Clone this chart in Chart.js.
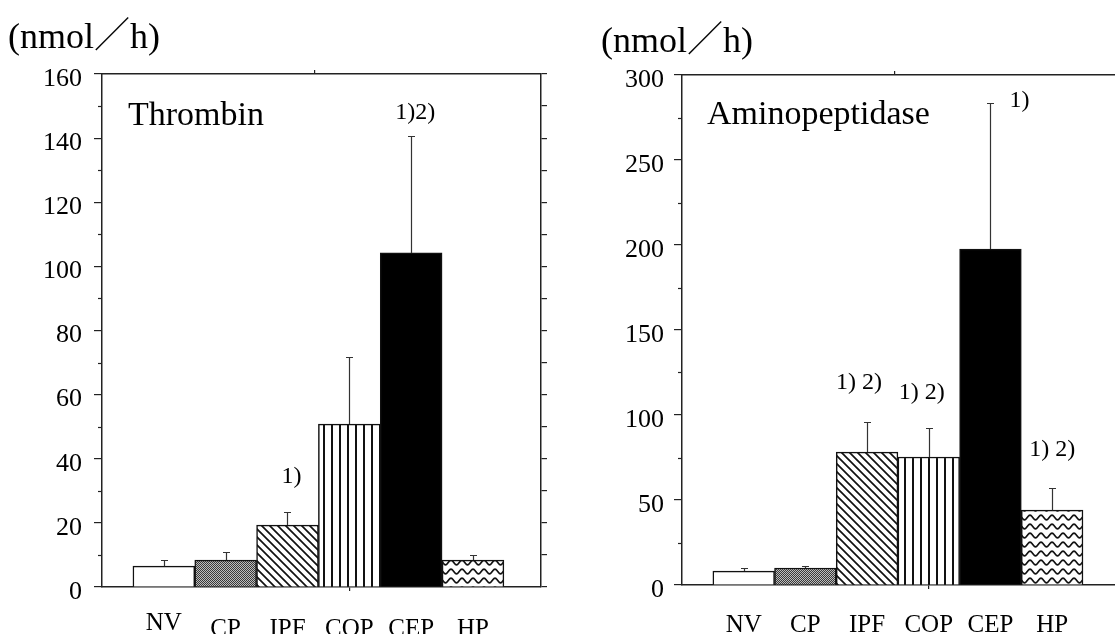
<!DOCTYPE html>
<html>
<head>
<meta charset="utf-8">
<script src="https://cdn.jsdelivr.net/npm/chart.js@4/dist/chart.umd.min.js"></script>
<style>
  html, body { margin: 0; padding: 0; background: #fff; overflow: hidden; width: 1115px; height: 634px; }
  #leftBox  { position: absolute; left: 0;     top: 0; width: 557px; height: 634px; }
  #rightBox { position: absolute; left: 557px; top: 0; width: 580px; height: 634px; }
</style>
</head>
<body>
<div id="leftBox"><canvas id="thrombinChart"></canvas></div>
<div id="rightBox"><canvas id="aminoChart"></canvas></div>
<script>
// ---- data ----
const groups = ['NV', 'CP', 'IPF', 'COP', 'CEP', 'HP'];

const thrombinMean  = [6.5, 8.4, 19.3, 50.8, 104.2, 8.4];
const thrombinSD    = [2.0, 2.5, 4.1, 20.9, 36.5, 1.6];
const thrombinNotes = ['', '', '1)', '', '1)2)', ''];
const thrombinTicks = [0, 20, 40, 60, 80, 100, 120, 140, 160];
const thrombinMinor = [10, 30, 50, 70, 90, 110, 130, 150];

const aminoMean  = [8.2, 10.0, 78.2, 75.3, 197.6, 44.0];
const aminoSD    = [1.8, 1.2, 17.8, 17.1, 85.9, 13.0];
const aminoNotes = ['', '', '1) 2)', '1) 2)', '1)', '1) 2)'];
const aminoTicks = [0, 50, 100, 150, 200, 250, 300];
const aminoMinor = [25, 75, 125, 175, 225, 275];

const unitLabel = '(nmol／h)';

// ---- styling ----
const SERIF = '"Liberation Serif", "Noto Serif CJK JP", "Noto Sans CJK JP", serif';
const AXIS = '#222';

function tile(w, h, paint) {
  const c = document.createElement('canvas');
  c.width = w; c.height = h;
  const g = c.getContext('2d');
  paint(g, w, h);
  return c;
}

const tiles = {
  plain: null,
  checker: tile(2, 2, g => {
    g.fillStyle = '#bdbdbd'; g.fillRect(0, 0, 2, 2);
    g.fillStyle = '#3a3a3a'; g.fillRect(0, 0, 1, 1); g.fillRect(1, 1, 1, 1);
  }),
  diagonal: tile(8, 8, g => {
    g.fillStyle = '#fff'; g.fillRect(0, 0, 8, 8);
    g.strokeStyle = '#111'; g.lineWidth = 1.7;
    g.beginPath();
    g.moveTo(-2, -2); g.lineTo(10, 10);
    g.moveTo(6, -2);  g.lineTo(10, 2);
    g.moveTo(-2, 6);  g.lineTo(2, 10);
    g.stroke();
  }),
  vertical: tile(8, 1, g => {
    g.fillStyle = '#fff'; g.fillRect(0, 0, 8, 1);
    g.fillStyle = '#111'; g.fillRect(3, 0, 2, 1);
  }),
  solid: null,
  wave: tile(11, 9, g => {
    g.fillStyle = '#fff'; g.fillRect(0, 0, 11, 9);
    g.strokeStyle = '#111'; g.lineWidth = 1.7;
    g.beginPath();
    for (let x = -1; x <= 12; x += 0.5) {
      const y = 4.5 - 2.3 * Math.cos(2 * Math.PI * x / 11);
      if (x === -1) g.moveTo(x, y); else g.lineTo(x, y);
    }
    g.stroke();
  })
};
const groupTile = ['plain', 'checker', 'diagonal', 'vertical', 'solid', 'wave'];

function fillsFor(ctx) {
  return groupTile.map(k => {
    if (k === 'plain') return '#ffffff';
    if (k === 'solid') return '#000000';
    return ctx.createPattern(tiles[k], 'repeat');
  });
}

function overlayPlugin(spec) {
  return {
    id: 'overlay',
    afterDatasetsDraw(chart) {
      const { ctx } = chart;
      const xs = chart.scales.x, ys = chart.scales.y;
      ctx.save();
      ctx.strokeStyle = '#333';
      ctx.lineWidth = 1.2;
      spec.mean.forEach((m, i) => {
        const x = Math.round(xs.getPixelForValue(i + 1)) + 0.5;
        const yb = ys.getPixelForValue(m);
        const yt = Math.round(ys.getPixelForValue(m + spec.sd[i])) + 0.5;
        ctx.beginPath();
        ctx.moveTo(x, yb); ctx.lineTo(x, yt);
        ctx.moveTo(x - 3.5, yt); ctx.lineTo(x + 3.5, yt);
        ctx.stroke();
      });
      ctx.restore();
    },
    afterDraw(chart) {
      const { ctx, chartArea } = chart;
      const xs = chart.scales.x, ys = chart.scales.y;
      const L = spec.layout;
      ctx.save();
      // minor ticks on the value axis
      ctx.strokeStyle = AXIS; ctx.lineWidth = 1.2;
      spec.minor.forEach(v => {
        const y = Math.round(ys.getPixelForValue(v)) + 0.5;
        ctx.beginPath();
        ctx.moveTo(chartArea.left - 4, y); ctx.lineTo(chartArea.left, y);
        ctx.stroke();
      });
      ctx.fillStyle = '#000';
      // unit and enzyme name
      ctx.textBaseline = 'alphabetic';
      ctx.textAlign = 'left';
      ctx.font = '36px ' + SERIF;
      ctx.fillText(unitLabel, L.unitX, L.unitY);
      ctx.font = '34px ' + SERIF;
      ctx.fillText(spec.name, L.nameX, L.nameY);
      // group labels
      ctx.font = '25px ' + SERIF;
      ctx.textAlign = 'center';
      groups.forEach((g, i) => {
        ctx.fillText(g, xs.getPixelForValue(i + 1), L.labelBase[i]);
      });
      // significance notes
      ctx.font = '24px ' + SERIF;
      ctx.textBaseline = 'middle';
      spec.notes.forEach((t, i) => {
        if (!t) return;
        const s = L.noteShift[i];
        const x = xs.getPixelForValue(i + 1) + s[0];
        const y = ys.getPixelForValue(spec.mean[i] + spec.sd[i]) - s[1];
        ctx.fillText(t, x, y);
      });
      ctx.restore();
    }
  };
}

function makeChart(canvasId, spec) {
  const canvas = document.getElementById(canvasId);
  const L = spec.layout;
  const points = spec.mean.map((m, i) => ({ x: i + 1, y: m }));
  const allTicks = spec.ticks.concat(spec.minor).sort((a, b) => a - b);
  const xCommon = {
    type: 'linear', min: 0, max: 7.1, offset: false,
    grid: { offset: false, drawOnChartArea: false, tickLength: 4, color: AXIS, lineWidth: 1.2 },
    border: { display: true, color: AXIS, width: 1.5 },
    ticks: { display: false }
  };
  return new Chart(canvas, {
    type: 'bar',
    data: {
      datasets: [{
        data: points,
        backgroundColor: fillsFor(canvas.getContext('2d')),
        borderColor: '#111',
        borderWidth: 1.5,
        barPercentage: 1,
        categoryPercentage: 1
      }]
    },
    options: {
      responsive: true,
      maintainAspectRatio: false,
      animation: false,
      devicePixelRatio: 1,
      layout: { padding: { top: L.top, right: L.padRight, left: 0, bottom: 0 } },
      plugins: { legend: { display: false }, tooltip: { enabled: false } },
      scales: {
        x: Object.assign({}, xCommon, {
          position: 'bottom',
          afterBuildTicks: s => { s.ticks = [{ value: 4 }]; },
          afterFit: s => { s.height = L.xAxisH; }
        }),
        xTop: Object.assign({}, xCommon, {
          position: 'top',
          afterBuildTicks: s => { s.ticks = [{ value: 3.44 }]; },
          afterFit: s => { s.height = 0; }
        }),
        y: {
          type: 'linear', position: 'left', min: 0, max: spec.max,
          grid: { drawOnChartArea: false, tickLength: 8, color: AXIS, lineWidth: 1.2 },
          border: { display: true, color: AXIS, width: 1.5 },
          ticks: { color: '#000', font: { family: SERIF, size: 26 }, padding: L.tickPad, labelOffset: 5 },
          afterBuildTicks: s => { s.ticks = spec.ticks.map(v => ({ value: v })); },
          afterFit: s => { s.width = L.yAxisW; }
        },
        yR: {
          type: 'linear', position: 'right', min: 0, max: spec.max,
          grid: { drawOnChartArea: false, tickLength: 6, color: AXIS, lineWidth: 1.2 },
          border: { display: true, color: AXIS, width: 1.5 },
          ticks: { display: false },
          afterBuildTicks: s => { s.ticks = allTicks.map(v => ({ value: v })); },
          afterFit: s => { s.width = 8; }
        }
      }
    },
    plugins: [overlayPlugin(spec)]
  });
}

makeChart('thrombinChart', {
  name: 'Thrombin', max: 160,
  mean: thrombinMean, sd: thrombinSD, notes: thrombinNotes,
  ticks: thrombinTicks, minor: thrombinMinor,
  layout: {
    top: 74, padRight: 8, yAxisW: 102, xAxisH: 47, tickPad: 12,
    unitX: 8, unitY: 48, nameX: 128, nameY: 125,
    labelBase: [630, 636, 636, 636, 636, 636],
    noteShift: [[0, 0], [0, 0], [4, 35], [0, 0], [4, 23], [0, 0]]
  }
});

makeChart('aminoChart', {
  name: 'Aminopeptidase', max: 300,
  mean: aminoMean, sd: aminoSD, notes: aminoNotes,
  ticks: aminoTicks, minor: aminoMinor,
  layout: {
    top: 75, padRight: 9, yAxisW: 125, xAxisH: 49, tickPad: 10,
    unitX: 44, unitY: 52, nameX: 150, nameY: 124,
    labelBase: [632, 632, 632, 632, 632, 632],
    noteShift: [[0, 0], [0, 0], [-8, 39], [-7, 35], [29, 2], [0, 38]]
  }
});
</script>
</body>
</html>
